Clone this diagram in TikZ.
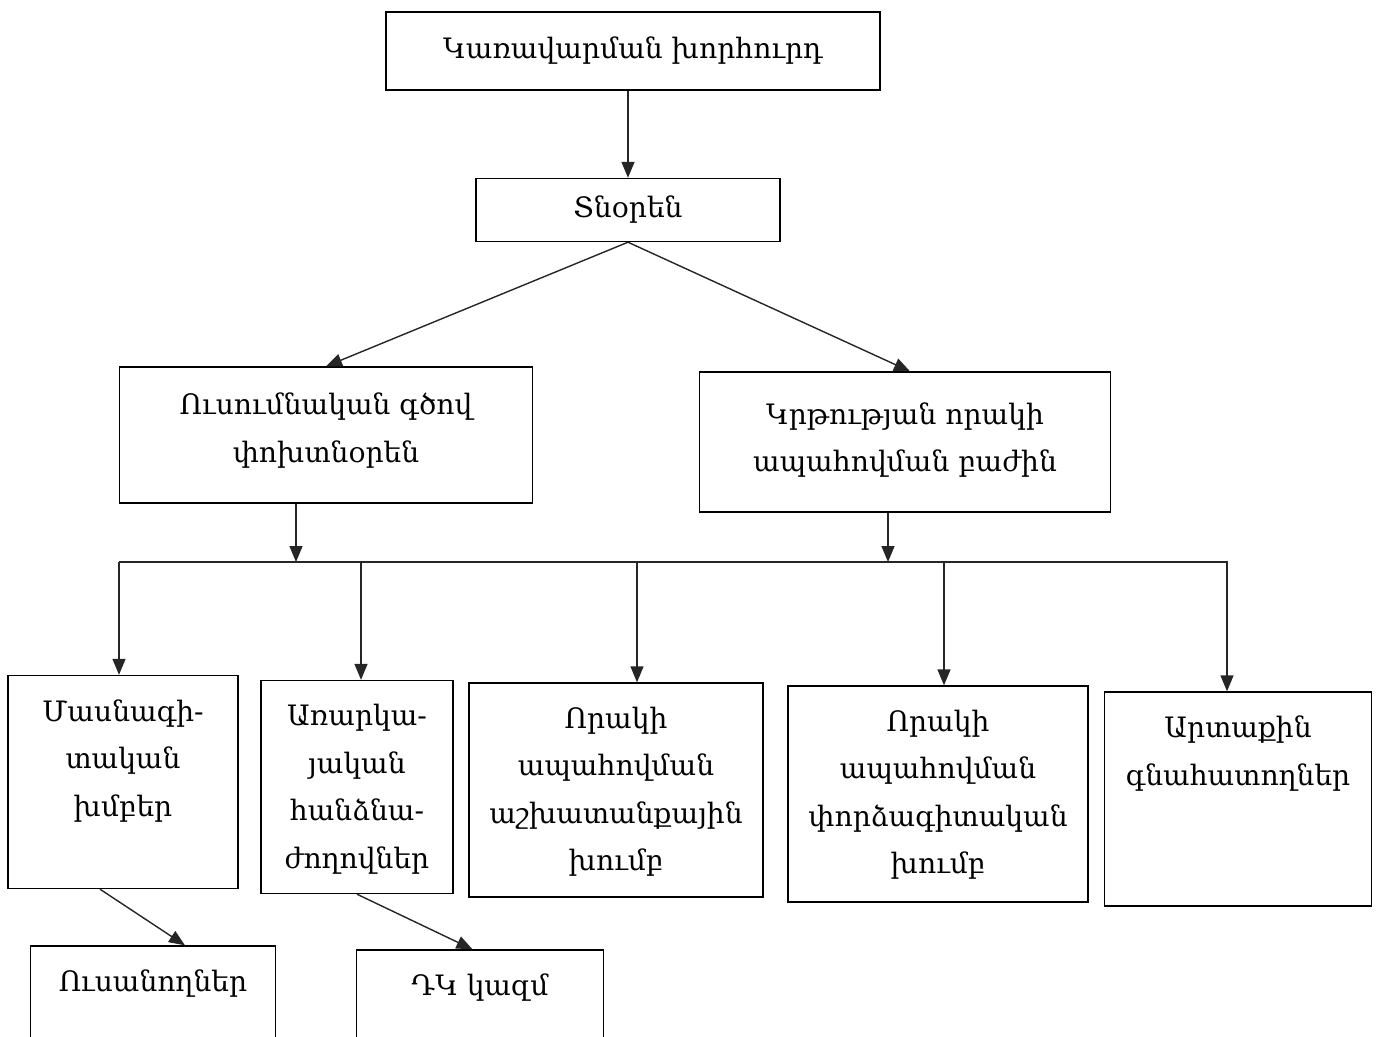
\documentclass[tikz,border=0pt]{standalone}
\usepackage{fontspec}
\setmainfont{DejaVu Serif}
\usepackage{tikz}
\usetikzlibrary{positioning,arrows.meta}

% text that starts near the top of a tall box
\newcommand{\toptext}[3]{\parbox[c][#1][t]{#2}{\centering\vspace*{0.48cm}#3\par}}

\begin{document}
\begin{tikzpicture}[x=0.02cm,y=-0.02cm,line width=0.8pt,
  >={Triangle[length=0.32cm,width=0.26cm]},
  unit/.style={draw,inner sep=0pt,align=center,font=\fontsize{16}{27}\selectfont},
  link/.style={->,draw=black!85}]
\useasboundingbox (0,0) rectangle (1382,1036);
% top levels
\node[unit,minimum width=9.88cm,minimum height=1.56cm] (board) at (633,51) {Կառավարման խորհուրդ};
\node[unit,minimum width=6.08cm,minimum height=1.26cm] (director) at (628,210) {Տնօրեն};
\node[unit,minimum width=8.26cm,minimum height=2.72cm] (deputy) at (326,435) {Ուսումնական գծով\\փոխտնօրեն\rule[-0.3cm]{0pt}{0pt}};
\node[unit,minimum width=8.22cm,minimum height=2.8cm] (qadept) at (905,442) {Կրթության որակի\\ապահովման բաժին\rule[-0.2cm]{0pt}{0pt}};
% bottom row
\node[unit] (profgr) at (123,782) {\toptext{4.26cm}{4.6cm}{Մասնագի-\\տական\\խմբեր}};
\node[unit] (subjcom) at (357,787) {\toptext{4.26cm}{3.84cm}{Առարկա-\\յական\\հանձնա-\\ժողովներ}};
\node[unit] (workgr) at (616,790) {\toptext{4.28cm}{5.88cm}{Որակի\\ապահովման\\աշխատանքային\\խումբ}};
\node[unit] (expgr) at (938,794) {\toptext{4.32cm}{6.0cm}{Որակի\\ապահովման\\փորձագիտական\\խումբ}};
\node[unit] (extev) at (1238,799) {\toptext{4.28cm}{5.34cm}{Արտաքին\\գնահատողներ}};
\node[unit] (students) at (153,996) {\toptext{2.0cm}{4.9cm}{Ուսանողներ}};
\node[unit] (dkstaff) at (480,1000) {\toptext{2.0cm}{4.94cm}{ԴԿ կազմ}};
% bus line
\coordinate (busL) at (119,562);
\coordinate (busR) at (1228,562);
\coordinate (inA) at (296,562);
\coordinate (inB) at (888,562);
\coordinate (drop1) at (119,562);
\coordinate (drop2) at (361,562);
\coordinate (drop3) at (637,562);
\coordinate (drop4) at (944,562);
\coordinate (drop5) at (1227,562);
\draw[draw=black!85] (busL) -- (busR);
\draw[link] (board.south -| director) -- (director.north);
\draw[link] (director.south) -- (deputy.north);
\draw[link] (director.south) -- ([xshift=0.1cm]qadept.north);
\draw[link] (deputy.south -| inA) -- (inA);
\draw[link] (qadept.south -| inB) -- (inB);
\draw[link] (drop1) -- (drop1 |- profgr.north);
\draw[link] (drop2) -- (drop2 |- subjcom.north);
\draw[link] (drop3) -- (drop3 |- workgr.north);
\draw[link] (drop4) -- (drop4 |- expgr.north);
\draw[link] (drop5) -- (drop5 |- extev.north);
\draw[link] ([xshift=-0.46cm]profgr.south) -- ([xshift=0.64cm]students.north);
\draw[link] (subjcom.south) -- ([xshift=-0.15cm]dkstaff.north);
\end{tikzpicture}
\end{document}
